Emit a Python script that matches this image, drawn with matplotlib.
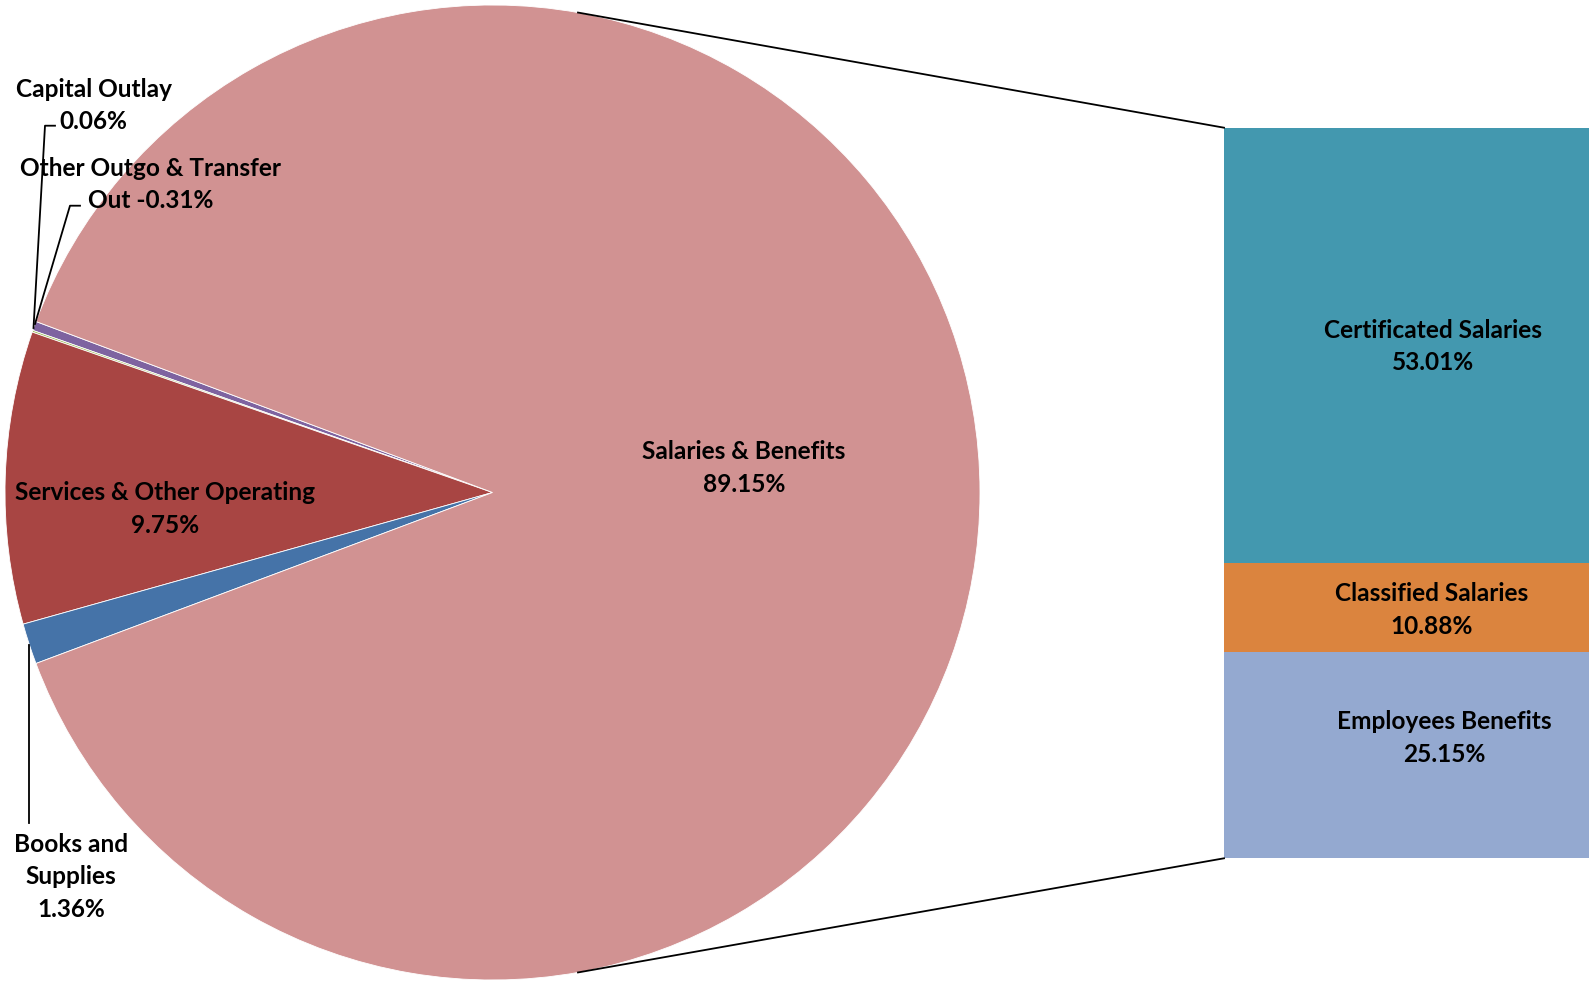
import matplotlib
matplotlib.use('Agg')
import matplotlib.pyplot as plt
import numpy as np

# pie slices (counterclockwise from the top edge of the combined slice)
pie_labels = ['Other Outgo & Transfer\nOut', 'Capital Outlay', 'Services & Other Operating',
              'Books and\nSupplies', 'Salaries & Benefits']
pie_values = [-0.31, 0.06, 9.75, 1.36, 89.15]
pie_colors = ['#7E63A0', '#9BBB59', '#A84543', '#4573A8', '#D19292']

# bar (breakdown of Salaries & Benefits), top to bottom
bar_labels = ['Certificated Salaries', 'Classified Salaries', 'Employees Benefits']
bar_values = [53.01, 10.88, 25.15]
bar_colors = ['#4398AF', '#DB843E', '#94A9D0']

W, H = 1589, 981
fig = plt.figure(figsize=(W / 100, H / 100), dpi=100)
ax = fig.add_axes([0, 0, 1, 1])

font = dict(family='Lato', fontweight='bold', fontsize=17.6, color='black',
            ha='center', va='center', linespacing=1.5)

# pie: excel plots the absolute values, combined slice centred facing the bar
cx, cy, r = 492.5, H - 492.5, 487.5
abs_vals = np.abs(pie_values)
others = abs_vals[:-1].sum() / abs_vals.sum() * 360
ax.pie(abs_vals, colors=pie_colors, startangle=180 - others / 2, counterclock=True,
       center=(cx, cy), radius=r, frame=True,
       wedgeprops=dict(linewidth=0.6, edgecolor='white'))
ax.set_xlim(0, W)
ax.set_ylim(0, H)
ax.set_aspect('equal')
ax.axis('off')

# bar of the secondary plot
bx0, bar_w = 1224, 420
btop, bbot = H - 127.7, H - 858.3
scale = (btop - bbot) / sum(bar_values)
bottoms = btop - np.cumsum(bar_values) * scale
ax.bar([bx0 + bar_w / 2] * 3, np.array(bar_values) * scale, bottom=bottoms,
       width=bar_w, color=bar_colors, linewidth=0)

# connector lines
ang = np.deg2rad(79.9)
ax.plot([cx + r * np.cos(ang), bx0], [cy + r * np.sin(ang), btop], color='black', lw=1.3)
ax.plot([cx + r * np.cos(ang), bx0], [cy - r * np.sin(ang), bbot], color='black', lw=1.3)

# labels
def pct(v):
    return '%.2f%%' % v

dy = 3
ax.text(744, H - 465 - dy, pie_labels[4] + '\n' + pct(pie_values[4]), **font)
ax.text(165, H - 506 - dy, pie_labels[2] + '\n' + pct(pie_values[2]), **font)
ax.text(71, H - 874 - dy, pie_labels[3] + '\n' + pct(pie_values[3]), **font)
ax.text(93.5, H - 102.5 - dy, pie_labels[1] + '\n' + pct(pie_values[1]), **font)
ax.text(151, H - 181.5 - dy, pie_labels[0] + ' ' + pct(pie_values[0]), **font)

# leader lines
ax.plot([29, 29], [H - 645, H - 823], color='black', lw=1.3)
ax.plot([55, 45, 33.5], [H - 125.7, H - 125.7, H - 328], color='black', lw=1.3)
ax.plot([80, 70, 35], [H - 205.7, H - 205.7, H - 324], color='black', lw=1.3)

label_pos = [(1433, H - 343.5), (1432, H - 607), (1444, H - 735)]
for lab, v, (x, y) in zip(bar_labels, bar_values, label_pos):
    ax.text(x, y - dy, lab + '\n' + pct(v), **font)

fig.savefig('out.png', dpi=100)
